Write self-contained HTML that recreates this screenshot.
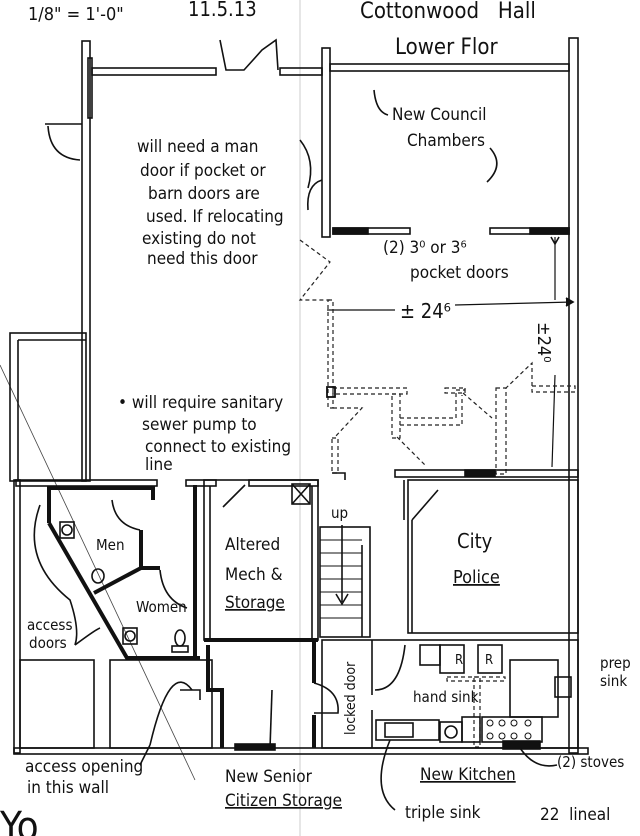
<!DOCTYPE html>
<html><head><meta charset="utf-8"><style>
html,body{margin:0;padding:0;background:#fff}
svg{display:block}
text{font-family:"Liberation Sans Narrow","DejaVu Sans Condensed","Liberation Sans",sans-serif;fill:#111}
</style></head><body>
<svg width="640" height="836" viewBox="0 0 640 836" xmlns="http://www.w3.org/2000/svg">
<g fill="none" stroke="#111" stroke-width="1.6">
<!-- faint fold line -->
<line x1="300" y1="0" x2="300" y2="836" stroke="#ccc" stroke-width="1"/>
<line x1="0" y1="365" x2="195" y2="780" stroke="#444" stroke-width="0.8"/>
<!-- left outer wall upper -->
<rect x="82" y="41" width="8" height="440"/>
<rect x="88" y="58" width="4" height="60"/>
<!-- side door -->
<line x1="45" y1="124" x2="82" y2="124"/>
<path d="M48 126 Q50 158 80 160"/>
<!-- top walls -->
<rect x="92" y="68" width="124" height="7"/>
<polyline points="220,40 226,70 244,70 262,50 276,40 278,70"/>
<rect x="280" y="68" width="42" height="7"/>
<rect x="322" y="48" width="8" height="189"/>
<rect x="330" y="64" width="239" height="7"/>
<!-- right outer wall -->
<rect x="569" y="38" width="9" height="715"/>
<!-- man door -->
<path d="M322 180 Q306 185 308 210"/>
<!-- council bottom walls -->
<rect x="333" y="228" width="77" height="6"/>
<rect x="333" y="228" width="35" height="6" fill="#111"/>
<rect x="490" y="228" width="79" height="6"/>
<rect x="530" y="228" width="39" height="6" fill="#111"/>
<!-- left annex -->
<rect x="10" y="333" width="76" height="148"/>
<line x1="18" y1="340" x2="18" y2="481"/>
<line x1="18" y1="340" x2="86" y2="340"/>
<!-- dimension lines -->
<line x1="327" y1="310" x2="395" y2="310" stroke-width="1.2"/>
<line x1="455" y1="305" x2="573" y2="302" stroke-width="1.2"/>
<path d="M566 298 L573 302 L566 306" fill="#111"/>
<line x1="555" y1="237" x2="555" y2="300" stroke-width="1.2"/>
<line x1="555" y1="375" x2="552" y2="467" stroke-width="1.2"/>
<path d="M551 237 L555 244 L559 237"/>
</g>
<!-- dashed existing walls -->
<g fill="none" stroke="#222" stroke-width="1.2" stroke-dasharray="4,3">
<polyline points="300,240 330,262 300,300 330,300"/>
<rect x="328" y="300" width="5" height="108"/>
<rect x="333" y="388" width="74" height="6"/>
<rect x="392" y="394" width="8" height="44"/>
<polyline points="400,418 456,418 456,390 465,390 465,388"/>
<rect x="445" y="388" width="20" height="5"/>
<polyline points="400,425 462,425 462,395"/>
<rect x="496" y="388" width="10" height="86"/>
<rect x="532" y="386" width="43" height="6"/>
<polyline points="532,386 532,363 506,388"/>
<polyline points="333,408 362,408 334,438"/>
<rect x="332" y="438" width="6" height="35"/>
<line x1="463" y1="393" x2="492" y2="418"/>
<line x1="397" y1="437" x2="425" y2="465"/>
<rect x="447" y="677" width="58" height="4"/>
<rect x="474" y="677" width="6" height="70"/>
</g>
<g fill="none" stroke="#111" stroke-width="1.6">
<rect x="327" y="387" width="8" height="10" stroke-width="1.8"/>
<!-- horizontal wall above police -->
<rect x="395" y="470" width="183" height="7"/>
<rect x="465" y="470" width="30" height="6" fill="#111"/>
<polyline points="332,473 345,473 345,480"/>
<!-- lower left outer -->
<rect x="14" y="480" width="6" height="273"/>
<rect x="16" y="480" width="141" height="6"/>
<rect x="186" y="480" width="30" height="6"/>
<rect x="249" y="480" width="69" height="6"/>
<rect x="14" y="748" width="574" height="6"/>
<!-- restroom thick walls -->
<g stroke-width="4">
<polyline points="47,488 153,488 153,500"/>
<line x1="49" y1="490" x2="49" y2="523"/>
<polyline points="49,523 127,658 200,658"/>
<line x1="195" y1="485" x2="195" y2="660"/>
<polyline points="94,593 141,568"/>
<line x1="141" y1="530" x2="141" y2="568"/>
<line x1="141" y1="568" x2="160" y2="568"/>
</g>
<path d="M112 500 Q115 525 140 530"/>
<path d="M160 570 Q163 600 187 608"/>
<rect x="60" y="522" width="14" height="16"/>
<circle cx="67" cy="530" r="5"/>
<rect x="123" y="628" width="14" height="16"/>
<circle cx="130" cy="636" r="5"/>
<ellipse cx="98" cy="576" rx="6" ry="7"/>
<ellipse cx="180" cy="638" rx="5" ry="8"/>
<rect x="172" y="646" width="16" height="6"/>
<!-- mech -->
<rect x="204" y="480" width="114" height="160"/>
<line x1="210" y1="486" x2="210" y2="640"/>
<line x1="312" y1="486" x2="312" y2="640"/>
<rect x="292" y="484" width="18" height="20"/>
<line x1="292" y1="484" x2="310" y2="504"/><line x1="310" y1="484" x2="292" y2="504"/>
<polyline points="223,507 245,485"/>
<line x1="204" y1="640" x2="318" y2="640" stroke-width="4"/>
<!-- stairs -->
<rect x="320" y="527" width="50" height="110"/>
<line x1="362" y1="545" x2="362" y2="637"/>
<g stroke-width="1">
<line x1="320" y1="540" x2="362" y2="540"/><line x1="320" y1="553" x2="362" y2="553"/>
<line x1="320" y1="566" x2="362" y2="566"/><line x1="320" y1="579" x2="362" y2="579"/>
<line x1="320" y1="592" x2="362" y2="592"/><line x1="320" y1="605" x2="362" y2="605"/>
<line x1="320" y1="618" x2="362" y2="618"/>
</g>
<line x1="342" y1="525" x2="342" y2="602"/>
<path d="M336 594 L342 604 L348 594"/>
<!-- senior storage -->
<g stroke-width="4">
<polyline points="208,645 208,690 222,690 222,748"/>
<line x1="314" y1="640" x2="314" y2="683"/>
<line x1="314" y1="715" x2="314" y2="748"/>
</g>
<rect x="235" y="744" width="40" height="6" fill="#111"/>
<path d="M314 683 Q340 690 338 713 L314 713"/>
<polyline points="180,690 200,690 200,700"/>
<!-- lower left boxes -->
<rect x="20" y="660" width="74" height="88"/>
<rect x="110" y="660" width="102" height="88"/>
<!-- police -->
<rect x="408" y="480" width="170" height="153"/>
<line x1="412" y1="520" x2="412" y2="633"/>
<polyline points="412,520 438,490"/>
<line x1="404" y1="480" x2="404" y2="520"/>
<!-- kitchen -->
<rect x="322" y="640" width="256" height="108"/>
<line x1="372" y1="640" x2="372" y2="695"/>
<path d="M375 690 Q400 690 405 645"/>
<line x1="372" y1="710" x2="372" y2="748"/>
<rect x="440" y="645" width="24" height="28"/>
<rect x="478" y="645" width="24" height="28"/>
<rect x="420" y="645" width="20" height="20"/>
<rect x="510" y="660" width="48" height="57"/>
<rect x="555" y="677" width="16" height="20"/>
<rect x="376" y="720" width="63" height="20"/>
<rect x="385" y="723" width="28" height="14"/>
<rect x="440" y="722" width="22" height="20"/>
<circle cx="451" cy="732" r="6"/>
<rect x="462" y="717" width="18" height="25"/>
<rect x="482" y="717" width="60" height="25"/>
<g stroke-width="1"><circle cx="490" cy="723" r="3"/><circle cx="490" cy="736" r="3"/><circle cx="502" cy="723" r="3"/><circle cx="502" cy="736" r="3"/><circle cx="514" cy="723" r="3"/><circle cx="514" cy="736" r="3"/><circle cx="528" cy="723" r="3"/><circle cx="528" cy="736" r="3"/></g>
<rect x="503" y="741" width="37" height="8" fill="#111"/>
<!-- arrows/leaders -->
<path d="M374 90 Q376 112 388 115"/>
<path d="M490 148 Q505 165 487 182"/>
<path d="M300 140 Q316 160 308 188"/>
<path d="M40 505 Q20 560 70 600 Q80 630 75 645"/>
<path d="M75 645 Q95 630 100 628"/>
<path d="M150 745 Q170 660 192 690"/>
<path d="M150 745 L140 765"/>
<path d="M272 690 L270 748"/>
<path d="M390 740 Q370 790 395 810"/>
<path d="M520 748 Q535 770 557 765"/>
</g>
<!-- text -->
<g font-size="17">
<text x="28" y="20" font-size="18">1/8" = 1'-0"</text>
<text x="188" y="16" font-size="20">11.5.13</text>
<text x="360" y="18" font-size="22">Cottonwood&#160;&#160;&#160;Hall</text>
<text x="395" y="54" font-size="22">Lower Flor</text>
<text x="392" y="120">New Council</text>
<text x="407" y="146">Chambers</text>
<text x="137" y="152">will need a man</text>
<text x="140" y="176">door if pocket or</text>
<text x="148" y="199">barn doors are</text>
<text x="146" y="222">used. If relocating</text>
<text x="142" y="244">existing do not</text>
<text x="147" y="264">need this door</text>
<text x="383" y="253">(2) 3⁰ or 3⁶</text>
<text x="410" y="278">pocket doors</text>
<text x="400" y="318" font-size="20">± 24⁶</text>
<text transform="translate(538,322) rotate(90)" font-size="18">±24⁰</text>
<text x="118" y="408">• will require sanitary</text>
<text x="142" y="430">sewer pump to</text>
<text x="145" y="452">connect to existing</text>
<text x="145" y="470">line</text>
<text x="96" y="550" font-size="15">Men</text>
<text x="136" y="612" font-size="15">Women</text>
<text x="225" y="550">Altered</text>
<text x="225" y="580">Mech &amp;</text>
<text x="225" y="608" text-decoration="underline">Storage</text>
<text x="331" y="518" font-size="15">up</text>
<text x="457" y="548" font-size="20">City</text>
<text x="453" y="583" font-size="18" text-decoration="underline">Police</text>
<text x="27" y="630" font-size="15">access</text>
<text x="29" y="648" font-size="15">doors</text>
<text transform="translate(355,735) rotate(-90)" font-size="14">locked door</text>
<text x="413" y="702" font-size="15">hand sink</text>
<text x="455" y="664" font-size="13">R</text>
<text x="485" y="664" font-size="13">R</text>
<text x="600" y="668" font-size="15">prep</text>
<text x="600" y="686" font-size="15">sink</text>
<text x="25" y="772">access opening</text>
<text x="27" y="793">in this wall</text>
<text x="225" y="782">New Senior</text>
<text x="225" y="806" text-decoration="underline">Citizen Storage</text>
<text x="420" y="780" text-decoration="underline">New Kitchen</text>
<text x="557" y="767" font-size="15">(2) stoves</text>
<text x="405" y="818">triple sink</text>
<text x="540" y="820">22&#160;&#160;lineal</text>
<text x="0" y="840" font-size="40">Yo</text>
</g>
</svg>
</body></html>
